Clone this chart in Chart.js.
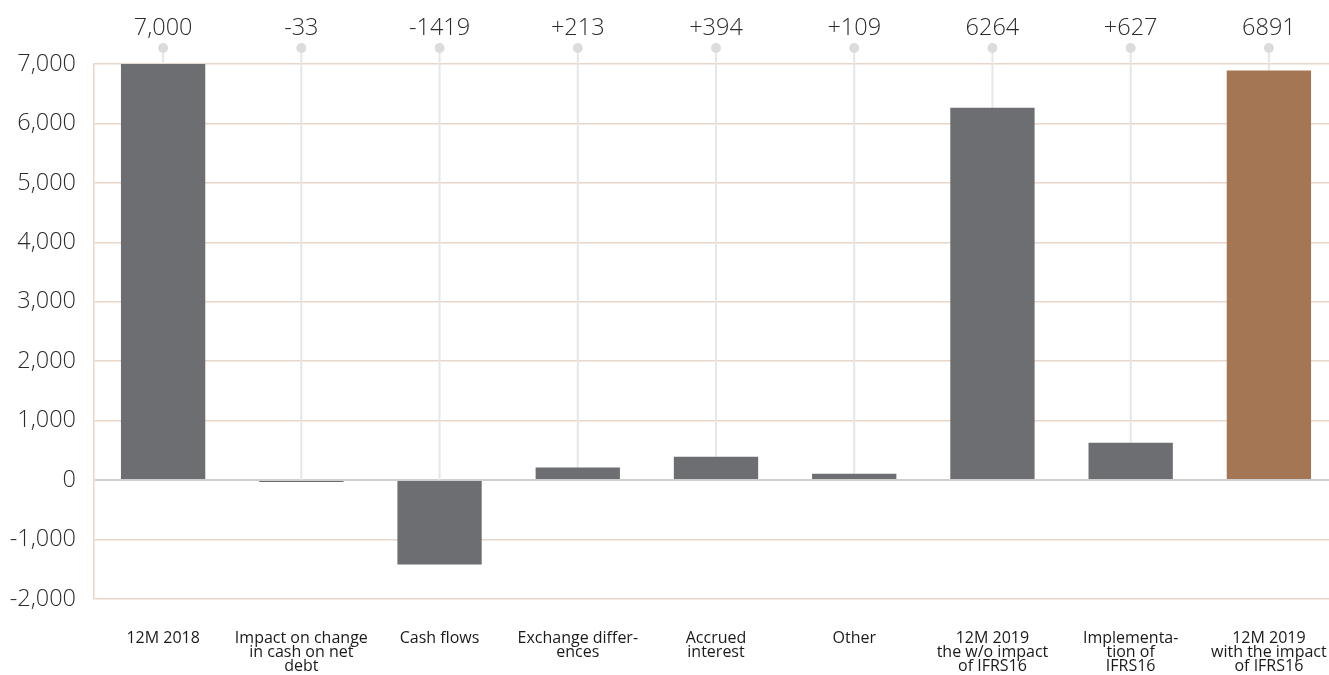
<!DOCTYPE html>
<html>
<head>
<meta charset="utf-8">
<script src="https://cdn.jsdelivr.net/npm/chart.js@4/dist/chart.umd.min.js"></script>
<style>
  html, body { margin: 0; padding: 0; background: #fff; overflow: hidden; }
  #wrap { width: 1338px; height: 675px; }
</style>
</head>
<body>
<div id="wrap"><canvas id="chart"></canvas></div>
<script>
const categories = [
    '12M 2018',
    ['Impact on change', 'in cash on net', 'debt'],
    'Cash flows',
    ['Exchange differ-', 'ences'],
    ['Accrued', 'interest'],
    'Other',
    ['12M 2019', 'the w/o impact', 'of IFRS16'],
    ['Implementa-', 'tion of', 'IFRS16'],
    ['12M 2019', 'with the impact', 'of IFRS16'],
];
const values = [7000, -33, -1419, 213, 394, 109, 6264, 627, 6891];
const topLabels = ['7,000', '-33', '-1419', '+213', '+394', '+109', '6264', '+627', '6891'];
const barColors = ['#6d6e71', '#6d6e71', '#6d6e71', '#6d6e71', '#6d6e71', '#6d6e71', '#6d6e71', '#6d6e71', '#a57654'];

// labels, dots and thin stems above each bar
const stems = {
    id: 'stems',
    beforeDatasetsDraw(chart) {
        const ctx = chart.ctx;
        const x = chart.scales.x, y = chart.scales.y;
        ctx.save();
        values.forEach((v, i) => {
            const cx = x.getPixelForValue(i);
            const end = y.getPixelForValue(Math.max(v, 0));
            ctx.strokeStyle = '#e6e6e6';
            ctx.lineWidth = 2;
            ctx.beginPath();
            ctx.moveTo(cx, 48);
            ctx.lineTo(cx, end);
            ctx.stroke();
        });
        ctx.restore();
    },
    afterDatasetsDraw(chart) {
        const ctx = chart.ctx;
        const x = chart.scales.x;
        ctx.save();
        values.forEach((v, i) => {
            const cx = x.getPixelForValue(i);
            ctx.fillStyle = '#dcdcde';
            ctx.beginPath();
            ctx.arc(cx, 48, 5, 0, Math.PI * 2);
            ctx.fill();
            ctx.fillStyle = '#2b2b2b';
            ctx.font = '300 23.5px "Open Sans"';
            ctx.textAlign = 'center';
            ctx.textBaseline = 'middle';
            ctx.fillText(topLabels[i], cx, 28);
        });
        ctx.restore();
    }
};

new Chart(document.getElementById('chart'), {
    type: 'bar',
    data: {
        labels: categories,
        datasets: [{
            data: values,
            backgroundColor: barColors,
            barPercentage: 0.61,
            categoryPercentage: 1,
        }]
    },
    options: {
        responsive: true,
        maintainAspectRatio: false,
        animation: false,
        layout: { padding: { top: 64, right: 0, left: 0, bottom: 0 } },
        plugins: { legend: { display: false }, tooltip: { enabled: false } },
        scales: {
            x: {
                grid: { display: false },
                border: { display: false },
                ticks: {
                    color: '#1a1a1a',
                    font: { family: 'Open Sans', size: 16, lineHeight: 0.85 },
                    padding: 25,
                    maxRotation: 0,
                    autoSkip: false,
                },
                afterFit(s) {
                    s.height = 76;
                    s.paddingLeft = 0;
                    s.paddingRight = 0;
                }
            },
            y: {
                min: -2000,
                max: 7000,
                grid: {
                    drawTicks: false,
                    color: c => c.tick && c.tick.value === 0 ? '#cfcfcf' : '#e8d6c8',
                    lineWidth: c => c.tick && c.tick.value === 0 ? 2 : 1.5,
                },
                border: { color: '#e8d6c8', width: 1.5 },
                ticks: {
                    stepSize: 1000,
                    color: '#2b2b2b',
                    padding: 18,
                    font: { family: 'Open Sans', size: 23.5, weight: '300' },
                    callback: v => v.toLocaleString('en-US'),
                },
                afterFit(s) { s.width = 94; }
            }
        }
    },
    plugins: [stems]
});
</script>
</body>
</html>
